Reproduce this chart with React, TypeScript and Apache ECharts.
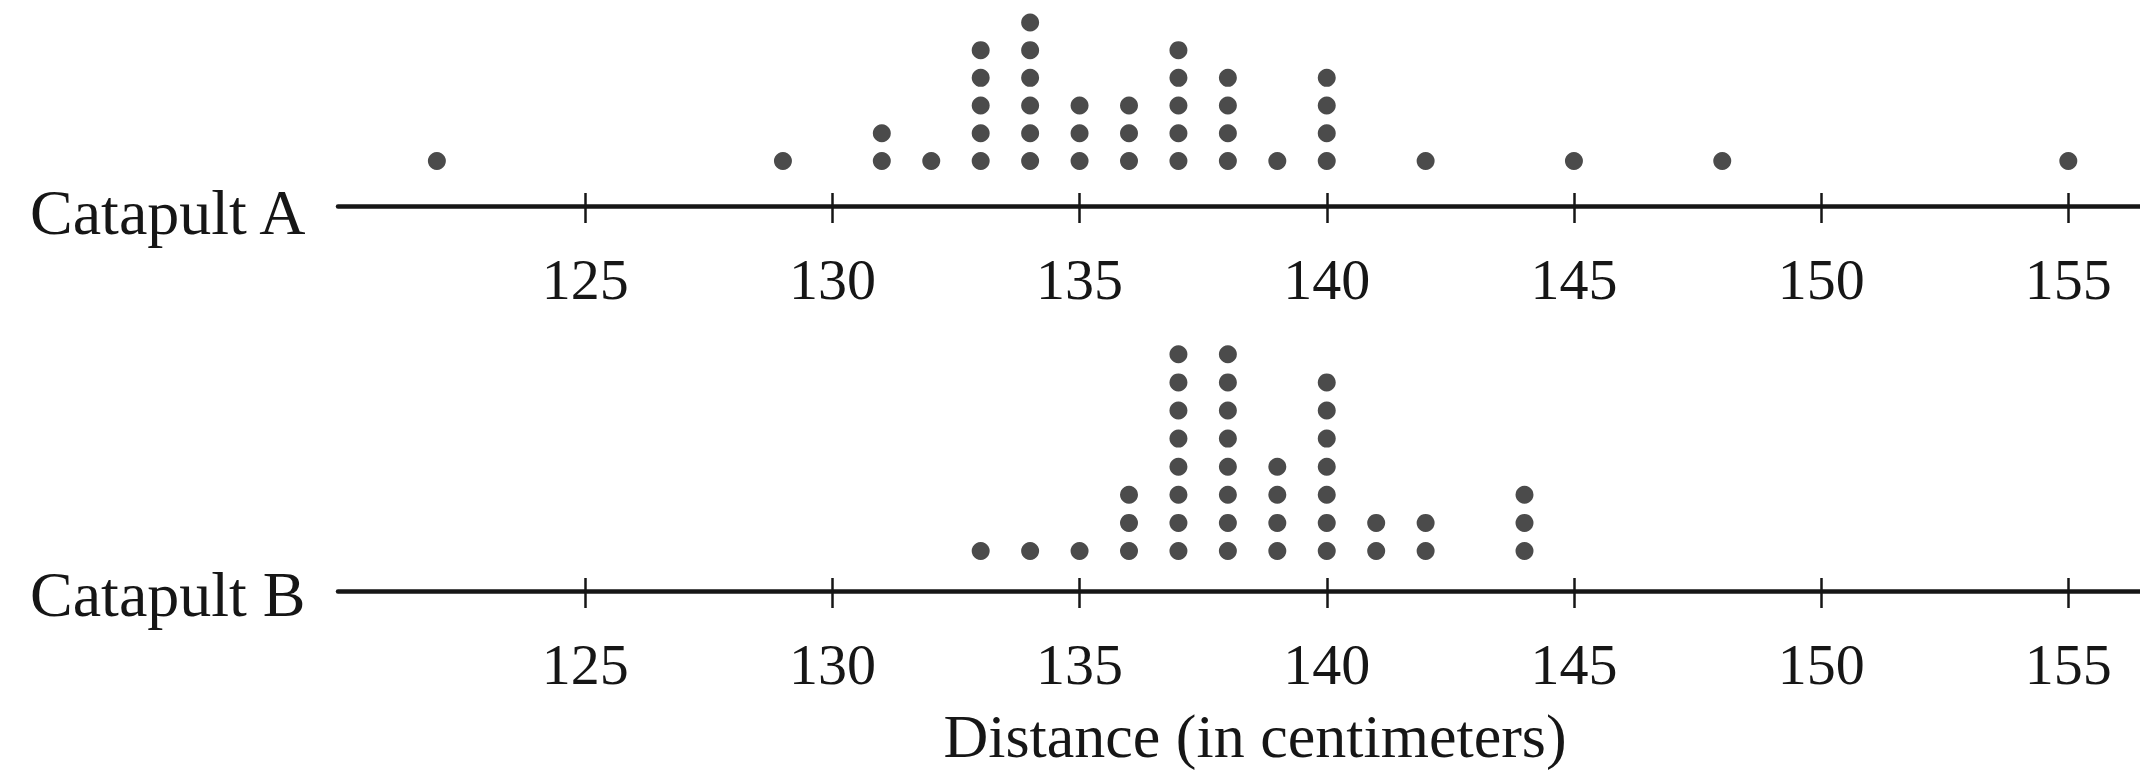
import React, { useEffect, useRef } from "react";
import * as echarts from "echarts";

// Catapult A: distance values and how many dots are stacked at each
const distancesA = [122, 129, 131, 132, 133, 134, 135, 136, 137, 138, 139, 140, 142, 145, 148, 155];
const countsA = [1, 1, 2, 1, 5, 6, 3, 3, 5, 4, 1, 4, 1, 1, 1, 1];

// Catapult B
const distancesB = [133, 134, 135, 136, 137, 138, 139, 140, 141, 142, 144];
const countsB = [1, 1, 1, 3, 8, 8, 4, 7, 2, 2, 3];

const tickLabels = [125, 130, 135, 140, 145, 150, 155];
const seriesNames = ["Catapult A", "Catapult B"];
const axisTitle = "Distance (in centimeters)";

const FONT = '"Liberation Serif", "Times New Roman", serif';
const INK = "#161616";
const DOT = "#1e1e1e";

function stackDots(values: number[], counts: number[]) {
  const pts: number[][] = [];
  values.forEach((v, i) => {
    for (let k = 1; k <= counts[i]; k++) pts.push([v, k]);
  });
  return pts;
}

export default function App() {
  const ref = useRef<HTMLDivElement>(null);

  useEffect(() => {
    document.body.style.margin = "0";
    if (!ref.current) return;
    const chart = echarts.init(ref.current, undefined, { renderer: "svg" });

    const mainX = (gridIndex: number) => ({
      type: "value",
      gridIndex,
      min: 120,
      max: 156.45,
      position: "bottom",
      axisLine: { show: true, onZero: false, lineStyle: { color: INK, width: 4.5 } },
      axisTick: {
        show: true,
        inside: false,
        length: 17,
        customValues: tickLabels,
        lineStyle: { color: INK, width: 2.5 },
      },
      axisLabel: {
        show: true,
        customValues: tickLabels,
        margin: 44,
        fontSize: 58,
        fontFamily: FONT,
        color: INK,
      },
      splitLine: { show: false },
    });
    const innerX = (gridIndex: number) => ({
      type: "value",
      gridIndex,
      min: 120,
      max: 156.45,
      position: "bottom",
      axisLine: { show: false, onZero: false },
      axisTick: {
        show: true,
        inside: true,
        length: 13,
        customValues: tickLabels,
        lineStyle: { color: INK, width: 2.5 },
      },
      axisLabel: { show: false },
      splitLine: { show: false },
    });
    const hiddenY = (gridIndex: number, min: number, max: number) => ({
      type: "value",
      gridIndex,
      min,
      max,
      show: false,
      splitLine: { show: false },
    });

    chart.setOption({
      animation: false,
      backgroundColor: "#ffffff",
      grid: [
        { left: 338, right: 0, top: 0, bottom: 775 - 206 },
        { left: 338, right: 0, top: 300, bottom: 775 - 591 },
      ],
      xAxis: [mainX(0), innerX(0), mainX(1), innerX(1)],
      yAxis: [hiddenY(0, -0.625, 6.81), hiddenY(1, -0.4235, 9.932)],
      series: [
        {
          name: seriesNames[0],
          type: "scatter",
          xAxisIndex: 0,
          yAxisIndex: 0,
          symbol: "circle",
          symbolSize: 18,
          itemStyle: { color: DOT },
          data: stackDots(distancesA, countsA),
        },
        {
          name: seriesNames[1],
          type: "scatter",
          xAxisIndex: 2,
          yAxisIndex: 1,
          symbol: "circle",
          symbolSize: 18,
          itemStyle: { color: DOT },
          data: stackDots(distancesB, countsB),
        },
      ],
      graphic: [
        {
          type: "text",
          x: 30,
          y: 212,
          style: {
            text: seriesNames[0],
            font: `64px ${FONT}`,
            fill: INK,
            textAlign: "left",
            textVerticalAlign: "middle",
          },
        },
        {
          type: "text",
          x: 30,
          y: 594,
          style: {
            text: seriesNames[1],
            font: `64px ${FONT}`,
            fill: INK,
            textAlign: "left",
            textVerticalAlign: "middle",
          },
        },
        {
          type: "text",
          x: 1255,
          y: 736,
          style: {
            text: axisTitle,
            font: `62px ${FONT}`,
            fill: INK,
            textAlign: "center",
            textVerticalAlign: "middle",
          },
        },
      ],
    });

    return () => chart.dispose();
  }, []);

  return <div ref={ref} style={{ width: 2140, height: 775 }} />;
}
